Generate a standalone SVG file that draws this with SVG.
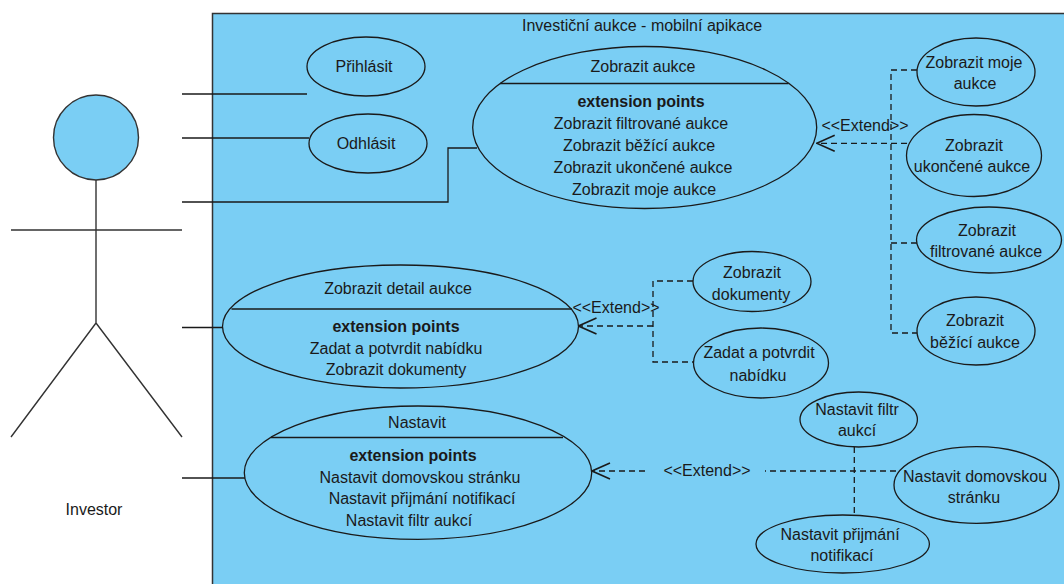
<svg xmlns="http://www.w3.org/2000/svg" width="1064" height="584" viewBox="0 0 1064 584">
<style>
text{font-family:"Liberation Sans",Arial,sans-serif;font-size:16px;fill:#1a1a1a;text-anchor:middle}
.b{font-weight:bold}
.uc{fill:#7ACEF4;stroke:#1a1a1a;stroke-width:1.3}
.ln{fill:none;stroke:#1a1a1a;stroke-width:1.3}
.dash{fill:none;stroke:#1a1a1a;stroke-width:1.3;stroke-dasharray:6 4}
.act{fill:none;stroke:#333;stroke-width:1.4}
</style>
<defs>
<marker id="open" viewBox="0 0 20 18" refX="19" refY="9" markerWidth="20" markerHeight="18" markerUnits="userSpaceOnUse" orient="auto">
<path d="M1,1 L19,9 L1,17" fill="none" stroke="#1a1a1a" stroke-width="1.6"/>
</marker>
</defs>
<rect width="1064" height="584" fill="#ffffff"/>
<g id="system">
<rect x="212.5" y="13.5" width="900" height="600" fill="#7ACEF4" stroke="#333" stroke-width="1.5"/>
<text x="642" y="30.5">Investiční aukce - mobilní apikace</text>
</g>
<g id="actor">
<circle cx="96" cy="137.5" r="42.5" fill="#7ACEF4" stroke="#333" stroke-width="1.4"/>
<path class="act" d="M96,180 V323 M11,230 H182 M96,323 L11,437 M96,323 L182,437"/>
<text x="94" y="515">Investor</text>
</g>
<g id="connectors">
<path class="ln" d="M182,94 H307"/>
<path class="ln" d="M182,138 H309"/>
<path class="ln" d="M182,202 H448 V148 H477"/>
<path class="ln" d="M182,327.5 H223"/>
<path class="ln" d="M182,478 H245"/>
<path class="dash" d="M917,70 H891 V333 H917"/>
<path class="dash" d="M891,243 H917"/>
<path class="dash" d="M907,143.3 H816.7" marker-end="url(#open)"/>
<text x="865" y="130.5">&lt;&lt;Extend&gt;&gt;</text>
<path class="dash" d="M693,281 H653 V362 H693"/>
<path class="dash" d="M653,326 H578.5" marker-end="url(#open)"/>
<text x="616" y="312.5">&lt;&lt;Extend&gt;&gt;</text>
<path class="dash" d="M896,471 H765"/>
<path class="dash" d="M645,471 H592" marker-end="url(#open)"/>
<text x="707" y="476">&lt;&lt;Extend&gt;&gt;</text>
<path class="dash" d="M854.3,447 V514"/>
</g>
<g id="prihlasit">
<ellipse class="uc" cx="366" cy="66.5" rx="59" ry="29.5"/>
<text x="364" y="71.5">Přihlásit</text>
</g>
<g id="odhlasit">
<ellipse class="uc" cx="368" cy="143.5" rx="59" ry="29.5"/>
<text x="366" y="149">Odhlásit</text>
</g>
<g id="zobrazit-aukce">
<ellipse class="uc" cx="644.7" cy="127.5" rx="172" ry="81"/>
<path class="ln" d="M500,83.5 H788.5"/>
<text x="643" y="71.5">Zobrazit aukce</text>
<text class="b" x="641" y="106.5">extension points</text>
<text x="641" y="129">Zobrazit filtrované aukce</text>
<text x="639" y="150.5">Zobrazit běžící aukce</text>
<text x="643" y="172.5">Zobrazit ukončené aukce</text>
<text x="644" y="194.5">Zobrazit moje aukce</text>
</g>
<g id="zobrazit-detail">
<ellipse class="uc" cx="400.5" cy="326.5" rx="178" ry="61.5"/>
<path class="ln" d="M231.5,309 H572"/>
<text x="398" y="294">Zobrazit detail aukce</text>
<text class="b" x="396" y="332">extension points</text>
<text x="396" y="354">Zadat a potvrdit nabídku</text>
<text x="396" y="374.5">Zobrazit dokumenty</text>
</g>
<g id="nastavit">
<ellipse class="uc" cx="418" cy="472.7" rx="173.7" ry="66.7"/>
<path class="ln" d="M271,437.5 H563"/>
<text x="417" y="428">Nastavit</text>
<text class="b" x="413" y="460.5">extension points</text>
<text x="420" y="483">Nastavit domovskou stránku</text>
<text x="422" y="504">Nastavit přijmání notifikací</text>
<text x="409" y="525.5">Nastavit filtr aukcí</text>
</g>
<g id="zobrazit-moje">
<ellipse class="uc" cx="976" cy="72" rx="59" ry="34"/>
<text x="974" y="68">Zobrazit moje</text>
<text x="975" y="89">aukce</text>
</g>
<g id="zobrazit-ukoncene">
<ellipse class="uc" cx="974" cy="155.5" rx="67.5" ry="41"/>
<text x="974" y="151">Zobrazit</text>
<text x="972" y="172">ukončené aukce</text>
</g>
<g id="zobrazit-filtrovane">
<ellipse class="uc" cx="989" cy="240" rx="72.5" ry="33"/>
<text x="987" y="236">Zobrazit</text>
<text x="986" y="257">filtrované aukce</text>
</g>
<g id="zobrazit-bezici">
<ellipse class="uc" cx="976" cy="331" rx="59" ry="34"/>
<text x="975" y="325.5">Zobrazit</text>
<text x="975" y="347.5">běžící aukce</text>
</g>
<g id="zobrazit-dokumenty">
<ellipse class="uc" cx="752" cy="281.5" rx="59" ry="30"/>
<text x="752" y="278">Zobrazit</text>
<text x="751" y="299.5">dokumenty</text>
</g>
<g id="zadat-nabidku">
<ellipse class="uc" cx="761" cy="363" rx="67.5" ry="35"/>
<text x="759" y="358">Zadat a potvrdit</text>
<text x="758" y="380.5">nabídku</text>
</g>
<g id="nastavit-filtr">
<ellipse class="uc" cx="858.7" cy="419.5" rx="58.7" ry="27.5"/>
<text x="857" y="414.5">Nastavit filtr</text>
<text x="857" y="436">aukcí</text>
</g>
<g id="nastavit-domovskou">
<ellipse class="uc" cx="976.5" cy="485" rx="82.5" ry="38.3"/>
<text x="975" y="481.5">Nastavit domovskou</text>
<text x="974" y="502.5">stránku</text>
</g>
<g id="nastavit-notifikaci">
<ellipse class="uc" cx="842.7" cy="544" rx="86.7" ry="29"/>
<text x="840" y="539.5">Nastavit přijmání</text>
<text x="842" y="561">notifikací</text>
</g>
</svg>
